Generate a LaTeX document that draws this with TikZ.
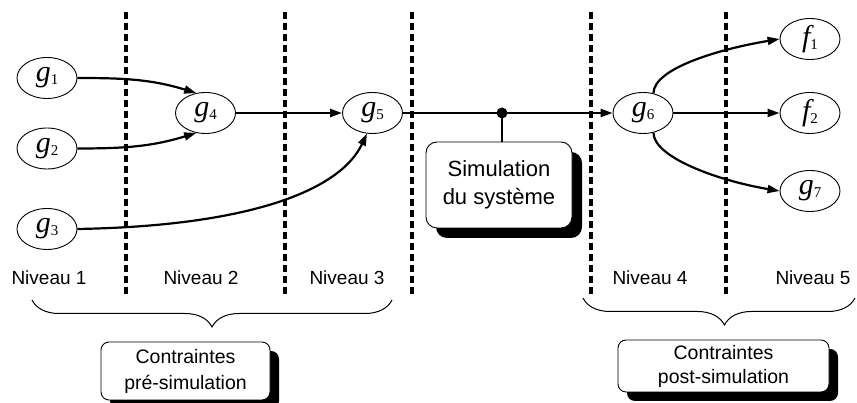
\documentclass[tikz,border=0pt]{standalone}
\usepackage{fontspec}
\setmainfont{Liberation Sans}
\newfontfamily\serifg{Liberation Serif}
\usetikzlibrary{arrows.meta,shapes.geometric,decorations.pathreplacing,shadows}
\newcommand\glab[2]{{\serifg\fontsize{30}{30}\selectfont\itshape #1}{\serifg\fontsize{15}{15}\selectfont\raisebox{-3pt}{#2}}}
\begin{document}
\begin{tikzpicture}[x=1pt,y=1pt,
  gn/.style={ellipse,draw,line width=0.9pt,minimum width=60pt,minimum height=41pt,inner sep=0pt},
  arr/.style={line width=2.2pt,-{Triangle[length=12pt,width=8pt]}},
  sep/.style={line width=3.2pt,dash pattern=on 7pt off 4pt},
  lvl/.style={font=\fontsize{19}{19}\selectfont,anchor=base},
  box/.style={draw,line width=0.9pt,fill=white,align=center,inner sep=0pt,
    drop shadow={shadow xshift=#1,shadow yshift=-#1,opacity=1,fill=black}},
  brc/.style={decorate,decoration={brace,mirror,amplitude=27pt,aspect=#1},line width=1pt}]
\useasboundingbox (0,0) rectangle (857,403);

% level separators
\foreach \x in {126,285,412,591,726} \draw[sep] (\x,391) -- (\x,106);

% nodes
\node[gn] (g1) at (47,325) {\glab{g}{1}};
\node[gn] (g2) at (47,254.5) {\glab{g}{2}};
\node[gn] (g3) at (47,174) {\glab{g}{3}};
\node[gn] (g4) at (205.5,290) {\glab{g}{4}};
\node[gn] (g5) at (372.5,290) {\glab{g}{5}};
\node[gn] (g6) at (643,290) {\glab{g}{6}};
\node[gn] (f1) at (810,364) {\glab{f}{1}};
\node[gn] (f2) at (810,290) {\glab{f}{2}};
\node[gn] (g7) at (810,212) {\glab{g}{7}};

\node[circle,fill,inner sep=0pt,minimum size=11pt] (dot) at (502,290) {};
\node[box=10pt,rounded corners=11pt,minimum width=146pt,minimum height=86pt,
  font=\fontsize{22}{28}\selectfont] (sim) at (499,218) {Simulation\\du système};

% connectors
\draw[arr] (g1.east) to[out=0,in=163] (g4.115);
\draw[arr] (g2.east) to[out=0,in=-163] (g4.245);
\draw[arr] (g3.east) .. controls +(172,3) and +(-27,-57) .. (g5.255);
\draw[arr] (g4) -- (g5);
\draw[arr] (g5) -- (g6);
\draw[line width=2.2pt] (dot.center) -- (dot.center |- sim.north);
\draw[arr] (g6.62) .. controls +(0,25) and +(-60,-10) .. (f1.west);
\draw[arr] (g6) -- (f2);
\draw[arr] (g6.-62) .. controls +(0,-25) and +(-60,10) .. (g7.west);

% level labels
\node[lvl] (n1) at (49,118) {Niveau 1};
\node[lvl] (n2) at (201,118) {Niveau 2};
\node[lvl] (n3) at (347,118) {Niveau 3};
\node[lvl] (n4) at (650,118) {Niveau 4};
\node[lvl] (n5) at (813,118) {Niveau 5};

% braces
\draw[brc=0.5] (32,103) -- (392,103);
\draw[brc=0.52] (583,105) -- (855,105);

% constraint boxes
\node[box=9pt,rounded corners=8pt,minimum width=169pt,minimum height=58pt,
  font=\fontsize{19.5}{26}\selectfont] (pre) at (185.5,32) {Contraintes\\pré-simulation};
\node[box=9pt,rounded corners=8pt,minimum width=211pt,minimum height=52pt,
  font=\fontsize{19.5}{24}\selectfont] (post) at (723.5,37) {Contraintes\\post-simulation};
\end{tikzpicture}
\end{document}
